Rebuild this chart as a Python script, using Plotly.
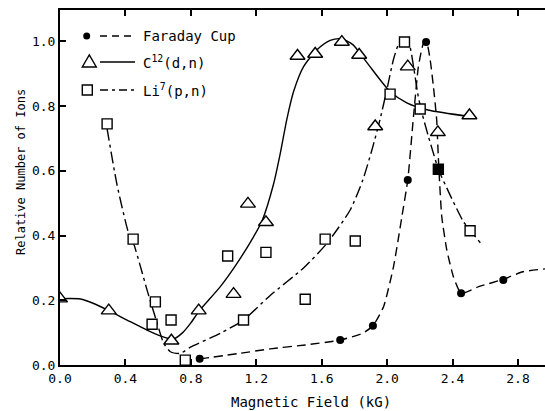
import plotly.graph_objects as go

# ---------------- data ----------------
# Faraday Cup measured points
fc_x = [0.854, 1.713, 1.913, 2.126, 2.238, 2.313, 2.452, 2.710]
fc_y = [0.019, 0.077, 0.121, 0.572, 0.998, 0.605, 0.222, 0.263]
# Faraday Cup hand-drawn curve
fc_cx = [0.854, 1.10, 1.285, 1.50, 1.713, 1.85, 1.913, 1.978, 2.039, 2.09, 2.126,
         2.161, 2.191, 2.222, 2.240, 2.263, 2.283, 2.303, 2.313, 2.334, 2.365,
         2.405, 2.452, 2.56, 2.71, 2.83, 2.965]
fc_cy = [0.019, 0.036, 0.050, 0.062, 0.077, 0.098, 0.121, 0.180, 0.304, 0.458, 0.572,
         0.768, 0.922, 0.994, 1.000, 0.943, 0.860, 0.757, 0.640, 0.458, 0.355,
         0.273, 0.222, 0.242, 0.265, 0.288, 0.297]

# C12(d,n) measured points
c_x = [0.0, 0.298, 0.681, 0.848, 1.061, 1.149, 1.259, 1.452, 1.560, 1.723,
       1.829, 1.927, 2.126, 2.310, 2.503]
c_y = [0.205, 0.168, 0.075, 0.168, 0.219, 0.498, 0.441, 0.955, 0.961, 0.998,
       0.958, 0.737, 0.922, 0.719, 0.771]
# C12 curve
c_cx = [0.0, 0.125, 0.206, 0.298, 0.41, 0.532, 0.614, 0.692, 0.75, 0.80, 0.848,
        0.98, 1.082, 1.184, 1.235, 1.306, 1.347, 1.387, 1.428, 1.489, 1.571,
        1.652, 1.72, 1.79, 1.88, 2.018, 2.12, 2.25, 2.503]
c_cy = [0.205, 0.204, 0.190, 0.168, 0.139, 0.108, 0.090, 0.080, 0.100, 0.130, 0.165,
        0.242, 0.314, 0.397, 0.445, 0.560, 0.655, 0.760, 0.845, 0.922, 0.974,
        1.003, 1.008, 0.990, 0.932, 0.845, 0.810, 0.788, 0.768]

# Li7(p,n) measured points
li_x = [0.288, 0.447, 0.583, 0.563, 0.679, 0.766, 1.025, 1.122, 1.259, 1.499,
        1.621, 1.805, 2.018, 2.106, 2.202, 2.313, 2.507]
li_y = [0.745, 0.389, 0.195, 0.126, 0.139, 0.015, 0.337, 0.139, 0.348, 0.203,
        0.389, 0.383, 0.837, 0.998, 0.791, 0.605, 0.415]
# Li7 curve
li_cx = [0.288, 0.349, 0.42, 0.447, 0.492, 0.532, 0.563, 0.594, 0.634, 0.675,
         0.736, 0.797, 0.98, 1.122, 1.285, 1.489, 1.632, 1.774, 1.85,
         1.91, 1.957, 1.998, 2.039, 2.069, 2.10, 2.135, 2.165, 2.19, 2.215,
         2.25, 2.283, 2.313, 2.385, 2.466, 2.511, 2.574]
li_cy = [0.730, 0.556, 0.407, 0.380, 0.304, 0.232, 0.180, 0.129, 0.067, 0.041,
         0.036, 0.055, 0.098, 0.139, 0.215, 0.300, 0.376, 0.479, 0.570,
         0.670, 0.760, 0.850, 0.945, 0.990, 1.005, 0.990, 0.910, 0.830, 0.775,
         0.710, 0.654, 0.605, 0.525, 0.443, 0.414, 0.375]

x_ticks = [0.0, 0.4, 0.8, 1.2, 1.6, 2.0, 2.4, 2.8]
x_tick_text = ["0.0", "0.4", "0.8", "1.2", "1.6", "2.0", "2.4", "2.8"]
y_ticks = [0.0, 0.2, 0.4, 0.6, 0.8, 1.0]
y_tick_text = ["0.0", "0.2", "0.4", "0.6", "0.8", "1.0"]

legend_labels = ["Faraday Cup", "C<sup>12</sup>(d,n)", "Li<sup>7</sup>(p,n)"]
x_title = "Magnetic Field (kG)"
y_title = "Relative Number of Ions"

# ---------------- figure ----------------
FONT = "DejaVu Sans Mono"
BLACK = "black"
LW = 1.4

fig = go.Figure()

fig.add_trace(go.Scatter(x=c_cx, y=c_cy, mode="lines", showlegend=False,
                         line=dict(color=BLACK, width=LW, shape="spline", smoothing=0.7)))
fig.add_trace(go.Scatter(x=li_cx, y=li_cy, mode="lines", showlegend=False,
                         line=dict(color=BLACK, width=LW, shape="spline", smoothing=0.6,
                                   dash="12px,4px,3px,4px")))
fig.add_trace(go.Scatter(x=fc_cx, y=fc_cy, mode="lines", showlegend=False,
                         line=dict(color=BLACK, width=LW, shape="spline", smoothing=0.5,
                                   dash="9px,5px")))

fig.add_trace(go.Scatter(x=c_x, y=c_y, mode="markers", showlegend=False,
                         marker=dict(symbol="triangle-up", size=13, color="white",
                                     line=dict(color=BLACK, width=1.4))))
li_fill = ["black" if any(abs(x - f) < 0.005 for f in fc_x) else "white" for x in li_x]
fig.add_trace(go.Scatter(x=li_x, y=li_y, mode="markers", showlegend=False,
                         marker=dict(symbol="square", size=10, color=li_fill,
                                     line=dict(color=BLACK, width=1.4))))
fig.add_trace(go.Scatter(x=fc_x, y=fc_y, mode="markers", showlegend=False,
                         marker=dict(symbol="circle", size=8, color=BLACK,
                                     line=dict(color=BLACK, width=0))))

# ----- hand-made legend (paper coordinates) -----
W, H = 485.0, 355.0
def px_x(p):
    return (p - 60) / W
def px_y(p):
    return (365 - p) / H

rows = [36, 62, 90]
shapes = []
dash_styles = ["7px,5px", "solid", "8px,4px,3px,4px"]
for r, d in zip(rows, dash_styles):
    shapes.append(dict(type="line", xref="paper", yref="paper",
                       x0=px_x(100), x1=px_x(135), y0=px_y(r), y1=px_y(r),
                       line=dict(color=BLACK, width=LW, dash=d)))
# circle
shapes.append(dict(type="circle", xref="paper", yref="paper",
                   x0=px_x(83.2), x1=px_x(90.2), y0=px_y(39.5), y1=px_y(32.5),
                   fillcolor=BLACK, line=dict(color=BLACK, width=0)))
# triangle
tx, ty = 89.3, 62
shapes.append(dict(type="path", xref="paper", yref="paper",
                   path=f"M {px_x(tx-7)} {px_y(ty+5)} L {px_x(tx+7)} {px_y(ty+5)} "
                        f"L {px_x(tx)} {px_y(ty-7)} Z",
                   fillcolor="white", line=dict(color=BLACK, width=1.4)))
# square
sx, sy = 87.3, 90
shapes.append(dict(type="rect", xref="paper", yref="paper",
                   x0=px_x(sx-5), x1=px_x(sx+5), y0=px_y(sy+5), y1=px_y(sy-5),
                   fillcolor="white", line=dict(color=BLACK, width=1.4)))

annotations = []
for r, lab in zip(rows, legend_labels):
    annotations.append(dict(x=px_x(141), y=px_y(r), xref="paper", yref="paper",
                            text=lab, showarrow=False, xanchor="left", yanchor="middle",
                            font=dict(family=FONT, size=14, color=BLACK)))
annotations.append(dict(x=px_x(311), y=px_y(402), xref="paper", yref="paper",
                        text=x_title, showarrow=False, xanchor="center", yanchor="middle",
                        font=dict(family=FONT, size=14, color=BLACK)))
annotations.append(dict(x=px_x(21), y=px_y(172), xref="paper", yref="paper",
                        text=y_title, showarrow=False, textangle=-90,
                        xanchor="center", yanchor="middle",
                        font=dict(family=FONT, size=12, color=BLACK)))

fig.update_layout(
    width=545, height=411,
    margin=dict(l=60, r=0, t=10, b=46),
    paper_bgcolor="white", plot_bgcolor="white",
    showlegend=False,
    shapes=shapes, annotations=annotations,
    font=dict(family=FONT, size=13, color=BLACK),
    xaxis=dict(range=[0, 2.965], tickvals=x_ticks, ticktext=x_tick_text,
               ticks="inside", ticklen=6, tickwidth=1.5, tickcolor=BLACK,
               showline=True, linecolor=BLACK, linewidth=2, mirror="ticks",
               showgrid=False, zeroline=False,
               tickfont=dict(family=FONT, size=13, color=BLACK)),
    yaxis=dict(range=[0, 1.097], tickvals=y_ticks, ticktext=y_tick_text,
               ticks="inside", ticklen=6, tickwidth=1.5, tickcolor=BLACK,
               showline=True, linecolor=BLACK, linewidth=2,
               showgrid=False, zeroline=False, ticklabelstandoff=0,
               tickfont=dict(family=FONT, size=13, color=BLACK)),
)

fig.write_html("out.html")
